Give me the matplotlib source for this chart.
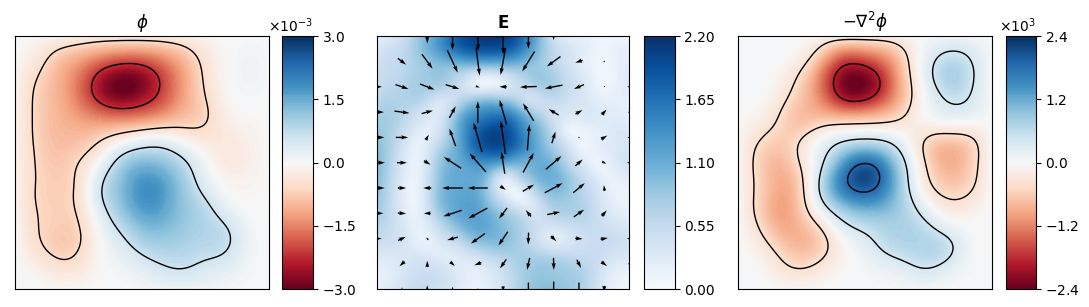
import numpy as np
import matplotlib
matplotlib.use('Agg')
import matplotlib.pyplot as plt
import matplotlib.tri as mtri
from matplotlib.ticker import ScalarFormatter

# phi, units of 1e-3, rows run top to bottom
PHI = [
    [0, -0.05, -0.12, -0.22, -0.3, -0.32, -0.32, -0.3, -0.2, -0.08, 0, 0.02, 0],
    [-0.05, -0.3, -0.85, -1.15, -1.5, -1.75, -1.75, -1.45, -1.0, -0.4, -0.05, 0.12, 0.03],
    [-0.1, -0.6, -1.05, -1.6, -2.55, -3.1, -2.9, -2.1, -1.25, -0.5, -0.05, 0.14, 0.03],
    [-0.1, -0.72, -1.05, -1.6, -2.4, -2.85, -2.55, -1.95, -1.2, -0.62, -0.1, 0.04, 0],
    [-0.1, -0.72, -1.0, -1.2, -1.35, -1.4, -1.3, -1.1, -0.85, -0.7, -0.2, -0.08, -0.02],
    [-0.1, -0.7, -0.95, -0.9, -0.6, -0.1, 0.25, 0.35, -0.05, -0.3, -0.35, -0.2, -0.03],
    [-0.1, -0.65, -0.85, -0.6, 0.0, 0.95, 1.35, 1.2, 0.75, 0.05, -0.3, -0.22, -0.03],
    [-0.08, -0.65, -0.75, -0.55, 0.55, 1.25, 1.85, 1.7, 1.05, 0.3, -0.1, -0.12, -0.02],
    [-0.07, -0.65, -0.72, -0.55, 0.45, 1.2, 1.8, 1.65, 1.15, 0.75, 0.15, -0.03, 0],
    [-0.05, -0.6, -0.75, -0.68, 0.1, 0.75, 1.3, 1.35, 1.1, 0.9, 0.65, 0.1, 0],
    [-0.03, -0.5, -0.82, -0.68, -0.05, 0.35, 0.8, 0.95, 0.9, 0.8, 0.72, 0.15, 0],
    [-0.01, -0.15, -0.42, -0.38, -0.05, 0.1, 0.3, 0.55, 0.65, 0.45, 0.3, 0.08, 0],
    [0, -0.02, -0.05, -0.05, -0.02, 0.0, 0.05, 0.1, 0.12, 0.1, 0.05, 0.01, 0],
]

# -laplacian of phi, units of 1e3
RHO = [
    [0, 0, 0, -0.02, -0.12, -0.2, -0.2, -0.2, -0.08, 0.02, 0.08, 0.05, 0],
    [0, 0.02, 0.0, -0.15, -0.85, -1.6, -1.5, -1.15, -0.45, 0.25, 0.6, 0.42, 0.02],
    [0, 0.03, -0.1, -0.55, -1.4, -2.4, -2.45, -1.7, -0.55, 0.3, 0.85, 0.52, 0.03],
    [0, 0.0, -0.28, -0.7, -1.25, -2.05, -2.05, -1.45, -0.6, 0.1, 0.5, 0.4, 0.02],
    [-0.03, -0.15, -0.5, -0.8, -0.65, -0.6, -0.55, -0.5, -0.3, 0, 0.1, 0.05, 0],
    [-0.05, -0.45, -0.65, -0.35, 0.15, 0.45, 0.55, 0.45, 0.0, -0.6, -0.75, -0.6, -0.02],
    [-0.05, -0.6, -0.85, -0.35, 0.35, 1.35, 2.0, 1.4, 0.35, -0.55, -0.95, -0.65, -0.03],
    [-0.05, -0.55, -0.95, -0.55, 0.7, 1.85, 2.25, 1.65, 0.45, -0.4, -0.7, -0.55, -0.03],
    [-0.03, -0.6, -1.05, -0.6, 0.35, 1.05, 1.35, 1.15, 0.65, 0.0, -0.35, -0.25, 0],
    [-0.02, -0.45, -0.95, -0.8, -0.35, 0.3, 0.55, 0.75, 0.75, 0.5, 0.1, 0, 0],
    [-0.01, -0.2, -0.6, -0.85, -0.6, -0.1, 0.2, 0.55, 0.7, 0.75, 0.6, 0.05, 0],
    [0, -0.03, -0.3, -0.45, -0.25, -0.05, 0.05, 0.15, 0.3, 0.45, 0.2, 0.05, 0],
    [0, 0, -0.02, -0.05, -0.02, 0, 0, 0.02, 0.05, 0.05, 0.02, 0, 0],
]

# |E|, rows run top to bottom
EMAG = [
    [0.15, 0.3, 0.55, 0.95, 1.35, 1.8, 2.05, 2.15, 2.1, 1.8, 1.2, 0.5, 0.2, 0.15, 0.12, 0.1, 0.1],
    [0.35, 0.5, 0.65, 0.95, 1.25, 1.55, 1.75, 1.8, 1.75, 1.5, 1.05, 0.65, 0.4, 0.25, 0.1, 0.15, 0.2],
    [0.45, 0.55, 0.65, 0.8, 0.9, 0.85, 0.8, 0.75, 0.8, 0.85, 0.85, 0.7, 0.45, 0.25, 0.08, 0.12, 0.25],
    [0.5, 0.6, 0.7, 0.8, 0.8, 0.6, 0.2, 0.05, 0.2, 0.5, 0.75, 0.8, 0.55, 0.35, 0.1, 0.12, 0.3],
    [0.6, 0.7, 0.7, 0.6, 0.35, 0.5, 0.75, 0.9, 0.8, 0.6, 0.4, 0.55, 0.45, 0.35, 0.2, 0.2, 0.2],
    [0.75, 0.75, 0.55, 0.35, 0.3, 0.85, 1.35, 1.55, 1.6, 1.25, 0.8, 0.45, 0.3, 0.3, 0.3, 0.25, 0.2],
    [0.85, 0.7, 0.4, 0.2, 0.4, 1.0, 1.6, 1.95, 2.0, 1.6, 1.1, 0.65, 0.15, 0.1, 0.2, 0.3, 0.3],
    [0.95, 0.65, 0.25, 0.2, 0.65, 1.05, 1.6, 1.95, 1.95, 1.6, 1.2, 0.8, 0.45, 0.1, 0.2, 0.3, 0.35],
    [1.0, 0.6, 0.2, 0.25, 0.85, 1.1, 1.3, 1.35, 1.2, 1.05, 1.1, 1.05, 0.65, 0.3, 0.1, 0.25, 0.4],
    [0.95, 0.55, 0.15, 0.3, 0.9, 1.15, 1.15, 0.9, 0.25, 0.55, 0.95, 1.1, 0.9, 0.55, 0.25, 0.15, 0.25],
    [0.9, 0.5, 0.12, 0.3, 0.95, 1.15, 1.2, 0.85, 0.3, 0.08, 0.5, 0.9, 0.85, 0.65, 0.4, 0.15, 0.15],
    [0.8, 0.5, 0.15, 0.3, 0.85, 1.15, 1.25, 1.05, 0.75, 0.45, 0.35, 0.65, 0.75, 0.7, 0.45, 0.25, 0.15],
    [0.65, 0.5, 0.25, 0.2, 0.55, 0.9, 1.15, 1.15, 0.95, 0.75, 0.5, 0.4, 0.45, 0.55, 0.5, 0.4, 0.3],
    [0.5, 0.45, 0.3, 0.15, 0.3, 0.5, 0.8, 0.95, 0.95, 0.75, 0.5, 0.25, 0.3, 0.45, 0.5, 0.5, 0.4],
    [0.3, 0.3, 0.35, 0.35, 0.25, 0.25, 0.35, 0.5, 0.65, 0.75, 0.75, 0.7, 0.6, 0.55, 0.5, 0.35, 0.3],
    [0.15, 0.25, 0.4, 0.5, 0.45, 0.3, 0.2, 0.25, 0.45, 0.7, 0.85, 0.85, 0.8, 0.7, 0.45, 0.2, 0.15],
    [0.15, 0.3, 0.45, 0.55, 0.4, 0.3, 0.1, 0.2, 0.4, 0.7, 0.9, 0.95, 0.85, 0.7, 0.4, 0.15, 0.1],
]

# arrow components as measured on the 3x zoom, rows top to bottom, EY positive downward
EX = [
    [0, 0, 0, 0, 2, 0, 0, 0, 0, 0, 0],
    [2, 25, 32, 31, 11, -15, -37, -41, -22, 0, 0],
    [32, 39, 44, 41, 12, -22, -50, -53, -30, -3, -14],
    [44, 45, 34, 19, 0, -21, -32, -30, 21, 14, -12],
    [46, 37, 9, -19, -25, -14, 6, 11, 0, 18, -14],
    [50, 30, 20, -52, -49, -10, 32, 47, 22, 13, -16],
    [48, 25, -24, -62, -60, 16, 34, 54, 35, -2, 0],
    [40, 25, -20, -55, -57, -24, -16, 39, 31, 15, 0],
    [30, 23, -7, -32, -42, -28, -1, 16, 22, 22, -16],
    [2, -15, 0, 14, -21, -19, -8, 1, 13, 17, -12],
    [0, 0, 0, 0, 0, 0, 0, 0, 0, 0, 0],
]
EY = [
    [0, 2, 44, 84, 90, 110, 76, 24, 0, 0, 0],
    [0, 19, 43, 67, 84, 81, 60, 30, 7, 0, 6],
    [0, 13, 17, 13, 4, 0, 2, 10, 13, 4, 0],
    [0, 6, -9, -35, -65, -74, -53, -18, -12, -15, 0],
    [0, 0, -16, -53, -88, -100, -78, -35, 0, -11, 0],
    [0, 0, 12, -34, -56, -66, -59, -40, -19, 6, 0],
    [0, 0, 0, 0, 0, 11, -20, -29, -29, -17, 0],
    [0, 2, 0, 18, 31, 32, -19, -8, -22, -17, 0],
    [0, -11, -7, 9, 30, 41, 36, 16, 2, -4, 0],
    [0, 14, -19, 12, 8, 27, 36, 36, 25, 13, 0],
    [0, -12, -24, -16, 0, 18, 40, 46, 40, 20, 0],
]

PHI_TICKS = [-3e-3, -1.5e-3, 0, 1.5e-3, 3e-3]
RHO_TICKS = [-2.4e3, -1.2e3, 0, 1.2e3, 2.4e3]
E_TICKS = [0, 0.55, 1.1, 1.65, 2.2]

W, H = 1089, 307
fig = plt.figure(figsize=(W / 100, H / 100), dpi=100)


def px_axes(x0, x1, y0=36.2, y1=289.2):
    return fig.add_axes([x0 / W, 1 - y1 / H, (x1 - x0) / W, (y1 - y0) / H])


def blur(z, sigma):
    # gaussian smoothing to take out the lumps left by reading a coarse grid
    r = int(3 * sigma)
    k = np.exp(-0.5 * (np.arange(-r, r + 1) / sigma) ** 2)
    k = k / k.sum()
    p = np.pad(z, r, mode='reflect', reflect_type='odd')
    p = np.apply_along_axis(lambda c: np.convolve(c, k, mode='same'), 0, p)
    p = np.apply_along_axis(lambda c: np.convolve(c, k, mode='same'), 1, p)
    return p[r:-r, r:-r]


def fine_field(values, sigma, n=320):
    # smooth the coarse readings with matplotlib's cubic triangle interpolator
    z = np.array(values, dtype=float)[::-1]
    x, y = np.meshgrid(np.linspace(0, 1, z.shape[1]), np.linspace(0, 1, z.shape[0]))
    tri = mtri.Triangulation(x.ravel(), y.ravel())
    interp = mtri.CubicTriInterpolator(tri, z.ravel(), kind='min_E')
    fx, fy = np.meshgrid(np.linspace(0, 1, n), np.linspace(0, 1, n))
    return fx, fy, blur(np.ma.filled(interp(fx, fy), 0.0), sigma)


def field_panel(ax_box, cax_box, values, unit, vmax, vmin, cmap, ticks, title,
                lines=None, sci=False, sigma=10):
    ax = px_axes(*ax_box)
    cax = px_axes(*cax_box)
    fx, fy, z = fine_field(values, sigma)
    z = np.clip(z * unit, vmin * 0.999 if vmin else 1e-9, vmax * 0.999)
    cf = ax.contourf(fx, fy, z, levels=np.linspace(vmin, vmax, 129), cmap=cmap)
    if lines is not None:
        ax.contour(fx, fy, z, levels=lines, colors='k', linewidths=1, linestyles='solid')
    ax.set_xticks([])
    ax.set_yticks([])
    ax.set_title(title, fontsize=12)
    cb = fig.colorbar(cf, cax=cax)
    cb.set_ticks(ticks)
    if sci:
        fmt = ScalarFormatter(useMathText=True)
        fmt.set_powerlimits((0, 0))
        cb.ax.yaxis.set_major_formatter(fmt)
    else:
        cb.ax.set_yticklabels(['%.2f' % t for t in ticks])
    return ax


field_panel((15.3, 268.5), (282.3, 312.7), PHI, 1e-3, 3e-3, -3e-3, 'RdBu',
            PHI_TICKS, r'$\phi$', lines=[-2.2e-3, -0.6e-3, 0.6e-3], sci=True)

ax_e = field_panel((376.7, 629.5), (644.3, 674.7), EMAG, 1.0, 2.2, 0, 'Blues',
                   E_TICKS, r'$\mathbf{E}$', sigma=5)
qx, qy = np.meshgrid(np.linspace(0, 1, 11), np.linspace(1, 0, 11))
ax_e.quiver(qx, qy, np.array(EX), -np.array(EY), pivot='mid', angles='xy',
            scale_units='width', scale=760, color='k')
ax_e.set_xlim(0, 1)
ax_e.set_ylim(0, 1)

field_panel((738.3, 991.5), (1006, 1035.7), RHO, 1e3, 2.4e3, -2.4e3, 'RdBu',
            RHO_TICKS, r'$-\nabla^2\phi$', lines=[-1.9e3, -0.42e3, 0.42e3, 1.85e3], sci=True)

fig.savefig('out.png', dpi=100)
